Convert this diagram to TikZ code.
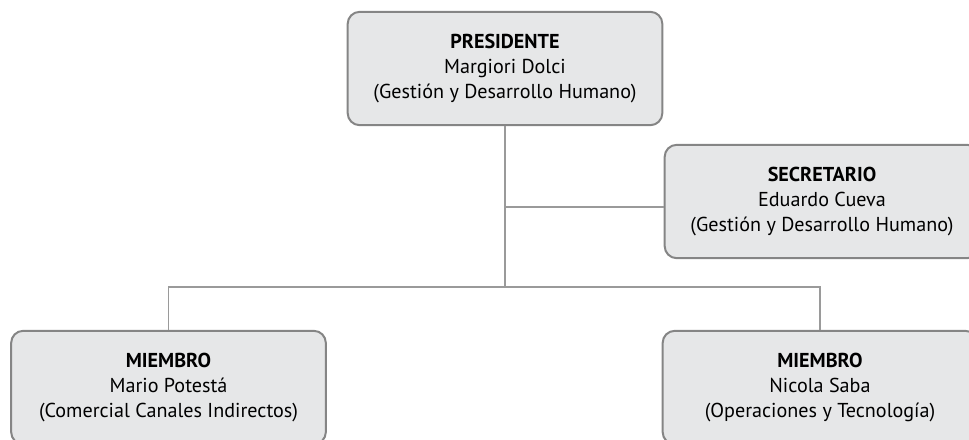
\documentclass[tikz,border=0pt]{standalone}
\usepackage{fontspec}
\setmainfont{PT Sans}
\usetikzlibrary{positioning}

\definecolor{cargofill}{HTML}{E6E7E8}
\definecolor{cargoline}{HTML}{858585}
\definecolor{enlace}{HTML}{9A9A9A}

\tikzset{
    cargo/.style={draw=cargoline, fill=cargofill, line width=1.5pt, rounded corners=9pt,
        minimum width=236pt, minimum height=85pt, align=center,
        font=\fontsize{15.1}{18.75}\selectfont, inner sep=0pt},
    enlace/.style={draw=enlace, line width=0.8pt}
}

\begin{document}
\begin{tikzpicture}[x=0.75pt, y=-0.75pt]
        \useasboundingbox (0,0) rectangle (969,439);
        \clip (0,0) rectangle (969,439);
        % cargos
        \node[cargo] (pres) at (505,68.5) {\textbf{PRESIDENTE}\\Margiori Dolci\\(Gestión y Desarrollo Humano)};
        \node[cargo] (secr) at (822,201.5) {\textbf{SECRETARIO}\\Eduardo Cueva\\(Gestión y Desarrollo Humano)};
        \node[cargo] (miem1) at (168.5,387.5) {\textbf{MIEMBRO}\\Mario Potestá\\(Comercial Canales Indirectos)};
        \node[cargo] (miem2) at (820,387.5) {\textbf{MIEMBRO}\\Nicola Saba\\(Operaciones y Tecnología)};
        % enlaces
        \coordinate (jsec) at (505,207);
        \coordinate (jbase) at (505,287);
        \draw[enlace] (pres.south) -- (jbase);
        \draw[enlace] (jsec) -- (jsec -| secr.west);
        \draw[enlace] (miem1.north) |- (jbase) -| (miem2.north);
    \end{tikzpicture}
\end{document}
